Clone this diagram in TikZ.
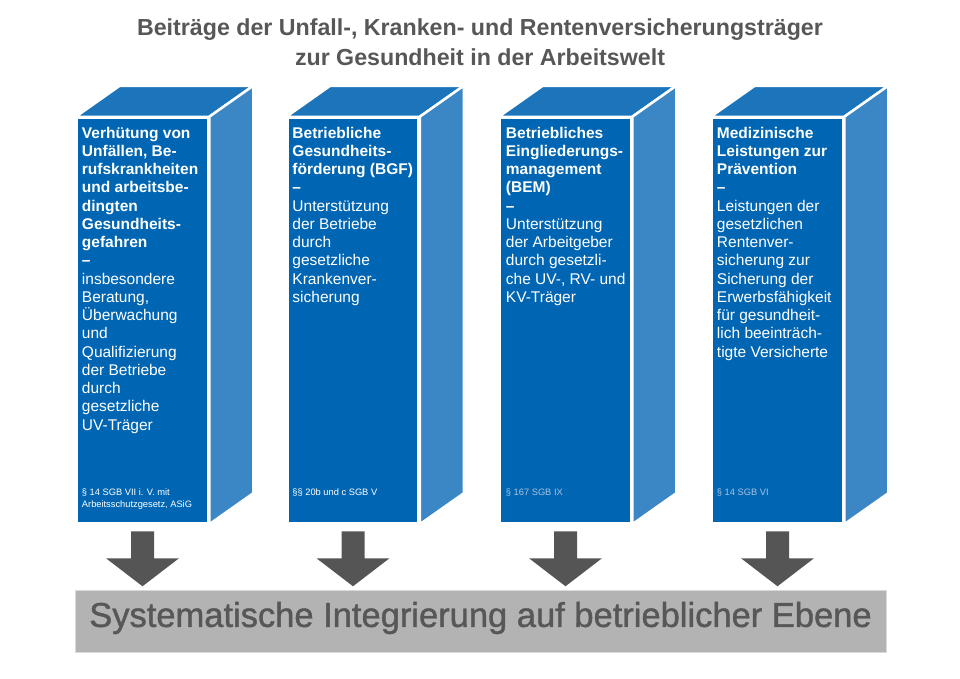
\documentclass[tikz,border=0pt]{standalone}
\usepackage{fontspec}
\setmainfont{Liberation Sans}
\newfontfamily\medsans[FakeBold=1.2]{Liberation Sans}
\usetikzlibrary{calc}
\definecolor{frontblue}{HTML}{0066B3}
\definecolor{topblue}{HTML}{1C74BA}
\definecolor{sideblue}{HTML}{3B87C5}
\definecolor{ink}{HTML}{575757}
\definecolor{arrowgray}{HTML}{555555}
\definecolor{bandgray}{HTML}{B3B3B3}
\definecolor{bandedge}{HTML}{DADADA}
\definecolor{lawpale}{HTML}{A9C3DF}
\newcommand{\hd}[1]{\textbf{#1}}
\tikzset{
  front/.style={fill=frontblue,draw=white,line width=2.5pt,minimum width=131pt,
    minimum height=405pt,inner sep=0pt},
  topface/.style={fill=topblue,draw=white,line width=2.5pt,line join=round},
  sideface/.style={fill=sideblue,draw=white,line width=2.5pt,line join=round},
  headtext/.style={anchor=north west,align=left,text=white,inner sep=0pt,
    font=\fontsize{15.5}{18.25}\selectfont},
  lawtext/.style={anchor=north west,align=left,text=white,inner sep=0pt,
    font=\fontsize{9.3}{12}\selectfont},
  drop/.style={fill=arrowgray},
  title/.style={font=\fontsize{23.2}{30}\selectfont\bfseries,text=ink,align=center},
  band/.style={fill=bandgray,draw=bandedge,line width=1pt,minimum width=811pt,
    minimum height=62pt,inner sep=0pt},
  bandtext/.style={text=ink,inner sep=0pt,font=\fontsize{34.5}{36}\selectfont\medsans},
}
\begin{document}
\begin{tikzpicture}[x=1pt,y=-1pt]
\useasboundingbox (0,0) rectangle (960,678);
\node[title] (head) at (480,42) {Beiträge der Unfall-, Kranken- und Rentenversicherungsträger\\zur Gesundheit in der Arbeitswelt};
% pillars
\foreach \n/\x in {1/77,2/287.5,3/500,4/712}{
  \node[front] (f\n) at (\x+65.5,320.5) {};
  \draw[topface] (f\n.north west) -- (f\n.north east) -- ++(44,-31)
    -- ($(f\n.north west)+(44,-31)$) -- cycle;
  \draw[sideface] (f\n.north east) -- ++(44,-31) -- ($(f\n.south east)+(44,-31)$)
    -- (f\n.south east) -- cycle;
  \fill[drop] ($(f\n.south)+(-11.5,7)$) -- ++(23,0) -- ++(0,27) -- ++(25,0)
    -- ++(-36.5,28) -- ++(-36.5,-28) -- ++(25,0) -- cycle;
}
\node[headtext] (t1) at ($(f1.north west)+(6,10)$) {\hd{Verhütung von}\\\hd{Unfällen, Be-}\\\hd{rufskrankheiten}\\\hd{und arbeitsbe-}\\\hd{dingten}\\\hd{Gesundheits-}\\\hd{gefahren}\\\hd{–}\\insbesondere\\Beratung,\\Überwachung\\und\\Qualifizierung\\der Betriebe\\durch\\gesetzliche\\UV-Träger};
\node[headtext] (t2) at ($(f2.north west)+(6,10)$) {\hd{Betriebliche}\\\hd{Gesundheits-}\\\hd{förderung (BGF)}\\\hd{–}\\Unterstützung\\der Betriebe\\durch\\gesetzliche\\Krankenver-\\sicherung};
\node[headtext] (t3) at ($(f3.north west)+(7,10)$) {\hd{Betriebliches}\\\hd{Eingliederungs-}\\\hd{management}\\\hd{(BEM)}\\\hd{–}\\Unterstützung\\der Arbeitgeber\\durch gesetzli-\\che UV-, RV- und\\KV-Träger};
\node[headtext] (t4) at ($(f4.north west)+(6,10)$) {\hd{Medizinische}\\\hd{Leistungen zur}\\\hd{Prävention}\\\hd{–}\\Leistungen der\\gesetzlichen\\Rentenver-\\sicherung zur\\Sicherung der\\Erwerbsfähigkeit\\für gesundheit-\\lich beeinträch-\\tigte Versicherte};
\node[lawtext] (l1) at ($(f1.south west)+(6,-36)$) {§ 14 SGB VII i. V. mit\\Arbeitsschutzgesetz, ASiG};
\node[lawtext] (l2) at ($(f2.south west)+(6,-36)$) {§§ 20b und c SGB V};
\node[lawtext,text=lawpale] (l3) at ($(f3.south west)+(7,-36)$) {§ 167 SGB IX};
\node[lawtext,text=lawpale] (l4) at ($(f4.south west)+(6,-36)$) {§ 14 SGB VI};
\node[band] (band) at (480.5,621) {};
\node[bandtext] (bandlabel) at ($(band.center)+(0,-3)$) {Systematische Integrierung auf betrieblicher Ebene};
\end{tikzpicture}
\end{document}
